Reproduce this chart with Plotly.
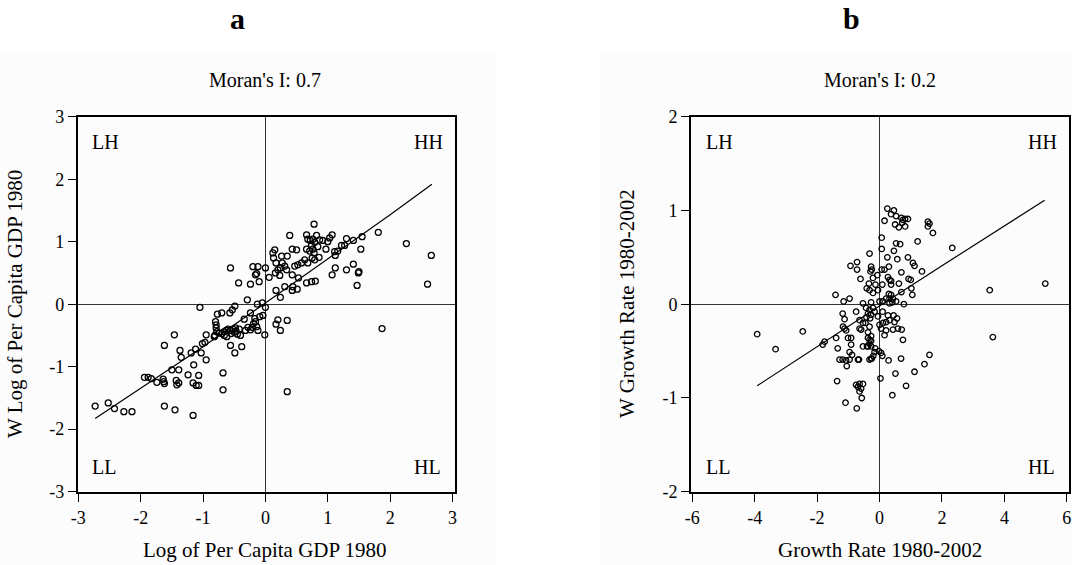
import plotly.graph_objects as go

# ---------------- data: panel a ----------------
gdp_pts = [
    (-2.73,-1.63),(-2.52,-1.58),(-2.42,-1.67),(-2.27,-1.72),(-2.14,-1.72),
    (-1.94,-1.17),(-1.88,-1.17),(-1.83,-1.19),(-1.74,-1.25),(-1.64,-1.20),
    (-1.63,-1.24),(-1.62,-1.27),(-1.62,-0.66),(-1.62,-1.63),(-1.46,-0.49),
    (-1.45,-1.69),(-1.50,-1.05),(-1.39,-1.05),(-1.43,-1.22),(-1.42,-1.29),
    (-1.39,-1.26),(-1.37,-0.74),(-1.35,-0.85),(-1.24,-1.13),(-1.16,-1.78),
    (-1.19,-0.78),(-1.12,-0.72),(-1.15,-0.97),(-1.16,-1.26),(-1.11,-1.30),
    (-1.07,-1.30),(-1.07,-1.14),(-1.05,-0.05),(-0.95,-0.49),(-0.97,-0.61),
    (-1.01,-0.63),(-1.03,-0.78),(-0.95,-0.89),(-0.82,-0.52),(-0.80,-0.28),
    (-0.79,-0.33),(-0.79,-0.38),(-0.78,-0.44),(-0.74,-0.46),(-0.81,-0.50),
    (-0.77,-0.16),(-0.70,-0.14),(-0.68,-1.10),(-0.68,-1.37),(-0.57,-0.14),
    (-0.53,-0.09),(-0.49,-0.03),(-0.70,-0.47),(-0.66,-0.44),(-0.63,-0.42),
    (-0.60,-0.40),(-0.56,-0.42),(-0.52,-0.40),(-0.50,-0.45),(-0.47,-0.43),
    (-0.45,-0.48),(-0.42,-0.40),(-0.40,-0.50),(-0.66,-0.50),(-0.62,-0.52),
    (-0.55,-0.47),(-0.48,-0.38),(-0.56,-0.66),(-0.38,-0.68),(-0.49,-0.78),
    (-0.34,-0.24),(-0.32,-0.42),(-0.29,0.07),(-0.17,-0.23),(-0.16,-0.28),
    (-0.19,-0.31),(-0.14,-0.36),(-0.12,-0.42),(-0.09,-0.20),(-0.04,-0.18),
    (-0.28,-0.37),(-0.24,-0.41),(-0.21,-0.37),(-0.24,-0.14),(-0.13,0.00),
    (-0.05,0.02),(0.00,-0.05),(-0.01,-0.49),(0.20,-0.25),(0.17,-0.32),
    (0.24,-0.42),(0.35,-0.26),(0.35,-1.40),(1.87,-0.39),(0.17,0.22),
    (0.24,0.11),(-0.56,0.58),(-0.43,0.34),(-0.24,0.32),(-0.20,0.60),
    (-0.12,0.60),(-0.16,0.47),(-0.14,0.49),(-0.10,0.36),(0.00,0.58),
    (0.06,0.43),(0.16,0.50),(0.12,0.82),(0.15,0.87),(0.13,0.74),
    (0.17,0.66),(0.24,0.58),(0.26,0.77),(0.27,0.66),(0.31,0.61),
    (0.34,0.55),(0.35,0.77),(0.20,0.55),(0.23,0.46),(0.39,1.10),
    (0.43,0.88),(0.50,0.87),(0.43,0.47),(0.47,0.61),(0.52,0.63),
    (0.58,0.66),(0.63,0.71),(0.53,0.42),(0.66,1.11),(0.68,1.04),
    (0.66,0.88),(0.72,1.02),(0.76,1.04),(0.79,0.99),(0.74,0.94),
    (0.76,0.88),(0.71,0.85),(0.78,0.82),(0.75,0.74),(0.79,0.71),
    (0.86,0.75),(0.68,0.66),(0.78,1.28),(0.82,1.10),(0.87,1.03),
    (0.84,0.92),(0.92,1.02),(0.97,0.88),(1.00,1.00),(1.03,1.06),
    (1.07,1.11),(1.11,0.84),(1.16,0.85),(1.12,0.78),(1.22,0.94),
    (1.27,0.94),(1.30,1.05),(1.41,1.02),(1.55,1.08),(1.53,0.88),
    (1.81,1.15),(2.26,0.97),(2.66,0.78),(2.60,0.32),(1.41,0.64),
    (1.30,0.55),(1.12,0.58),(1.07,0.47),(1.50,0.52),(1.49,0.50),
    (1.47,0.30),(0.66,0.34),(0.74,0.36),(0.80,0.37),(0.43,0.22),
    (0.51,0.24),(0.44,0.28),(0.31,0.28),
]
gdp_x = [p[0] for p in gdp_pts]
gdp_wy = [p[1] for p in gdp_pts]
gdp_fit_x = [-2.73, -2.0, -1.0, 0.0, 1.0, 2.0, 2.67]
gdp_fit_y = [-1.83, -1.35, -0.68, 0.02, 0.72, 1.43, 1.92]

# ---------------- data: panel b ----------------
gr_pts = [
    (0.25,1.02),(0.46,1.00),(0.37,0.96),(0.53,0.94),(0.16,0.89),(0.50,0.85),
    (0.62,0.82),(0.82,0.83),(0.70,0.92),(0.75,0.90),(0.82,0.91),(0.91,0.91),
    (0.73,0.87),(1.55,0.88),(1.60,0.86),(1.55,0.83),(1.71,0.76),(2.33,0.60),
    (1.22,0.67),(0.07,0.71),(0.53,0.65),(0.66,0.64),(0.07,0.59),(0.46,0.57),
    (-0.32,0.54),(0.25,0.50),(0.91,0.50),(0.57,0.48),(1.07,0.44),(1.12,0.41),
    (-0.72,0.45),(-0.93,0.41),(-0.72,0.37),(-0.27,0.40),(-0.25,0.37),(-0.29,0.35),
    (0.30,0.40),(0.07,0.37),(0.16,0.37),(1.36,0.35),(0.70,0.34),(-0.61,0.27),
    (-0.21,0.28),(-0.07,0.31),(0.27,0.29),(0.32,0.26),(0.37,0.25),(0.93,0.27),
    (1.00,0.26),(-0.34,0.22),(-0.13,0.21),(0.09,0.21),(0.37,0.21),(0.62,0.22),
    (-0.41,0.17),(-0.32,0.15),(-0.21,0.12),(-0.05,0.15),(1.02,0.17),(0.70,0.13),
    (1.05,0.10),(-1.41,0.10),(-0.96,0.06),(3.53,0.15),(5.31,0.22),(0.30,0.11),
    (0.37,0.10),(0.32,0.06),
    (-1.15,0.03),(-0.53,0.01),(-0.27,0.02),(-0.43,-0.04),(-0.32,-0.06),(-0.21,-0.04),
    (-0.37,-0.10),(-0.27,-0.11),(-0.16,-0.08),(0.00,0.03),(0.11,0.03),(0.21,0.06),
    (0.43,0.06),(0.32,0.01),(0.53,0.03),(0.78,0.00),(0.41,0.02),
    (-3.92,-0.32),(-3.33,-0.48),(-2.46,-0.29),(-1.76,-0.40),(-1.82,-0.43),(3.63,-0.35),
    (-1.18,-0.10),(-0.75,-0.08),(-1.12,-0.16),(-0.64,-0.17),(-0.53,-0.20),(-1.17,-0.24),
    (-1.12,-0.26),(-1.07,-0.28),(-0.64,-0.26),(-0.59,-0.27),
    (-0.32,-0.24),(-0.37,-0.30),(-0.27,-0.34),(-0.37,-0.36),(-0.32,-0.38),(-0.27,-0.39),
    (-0.32,-0.42),(-0.40,-0.45),(-0.27,-0.45),(-0.45,-0.20),(-0.42,-0.14),(-0.30,-0.15),
    (0.00,-0.22),(0.11,-0.20),(0.21,-0.19),(0.32,-0.17),(0.48,-0.19),(0.56,-0.15),
    (0.59,-0.26),(0.21,-0.28),(0.43,-0.27),(0.16,-0.33),(0.71,-0.27),(0.75,-0.38),
    (0.10,-0.08),(0.27,-0.12),(0.45,-0.12),(-0.05,-0.13),(0.05,-0.26),
    (1.60,-0.54),(1.44,-0.64),(1.12,-0.72),(0.51,-0.74),(0.29,-0.60),(0.69,-0.58),
    (0.03,-0.79),(0.85,-0.87),(0.41,-0.97),
    (-0.02,-0.50),(0.05,-0.52),(0.09,-0.55),(-0.16,-0.51),(-0.20,-0.55),(-0.25,-0.58),
    (-0.14,-0.47),(-0.37,-0.45),(-0.53,-0.45),(-0.91,-0.43),(-1.01,-0.36),(-0.91,-0.36),
    (-1.34,-0.47),(-1.39,-0.36),(-0.96,-0.51),(-0.88,-0.54),
    (-1.28,-0.59),(-1.18,-0.59),(-1.07,-0.60),(-0.96,-0.59),(-0.69,-0.59),(-0.66,-0.59),
    (-1.05,-0.66),(-0.32,-0.59),(-0.27,-0.58),
    (-1.36,-0.82),(-0.75,-0.86),(-0.69,-0.88),(-0.64,-0.85),(-0.59,-0.90),(-0.53,-0.85),
    (-0.64,-0.93),(-0.57,-1.00),(-1.09,-1.05),(-0.73,-1.11),
]
gr_x = [p[0] for p in gr_pts]
gr_wy = [p[1] for p in gr_pts]
gr_fit_x = [-3.92, -2.0, 0.0, 2.0, 3.5, 5.29]
gr_fit_y = [-0.87, -0.45, -0.02, 0.41, 0.73, 1.11]

a_ticks = [-3, -2, -1, 0, 1, 2, 3]
a_ticklabels = ["-3", "-2", "-1", "0", "1", "2", "3"]
b_xticks = [-6, -4, -2, 0, 2, 4, 6]
b_xticklabels = ["-6", "-4", "-2", "0", "2", "4", "6"]
b_yticks = [-2, -1, 0, 1, 2]
b_yticklabels = ["-2", "-1", "0", "1", "2"]

panel_letters = ["a", "b"]
moran_titles = ["Moran's I: 0.7", "Moran's I: 0.2"]
x_titles = ["Log of Per Capita GDP 1980", "Growth Rate 1980-2002"]
y_titles = ["W Log of Per Capita GDP 1980", "W Growth Rate 1980-2002"]
quadrants = ["LH", "HH", "LL", "HL"]

# ---------------- figure ----------------
W, H = 1072, 565
FONT = "Liberation Serif, Times New Roman, serif"

def px(x):
    return x / W

def py(y):
    return 1 - y / H

fig = go.Figure()
fig.add_trace(go.Scatter(x=gdp_x, y=gdp_wy, mode="markers", xaxis="x", yaxis="y",
                         marker=dict(symbol="circle-open", size=6, color="black",
                                     line=dict(width=1.3, color="black")),
                         showlegend=False, hoverinfo="skip"))
fig.add_trace(go.Scatter(x=gdp_fit_x, y=gdp_fit_y, mode="lines", xaxis="x", yaxis="y",
                         line=dict(color="black", width=1.2), showlegend=False))
fig.add_trace(go.Scatter(x=gr_x, y=gr_wy, mode="markers", xaxis="x2", yaxis="y2",
                         marker=dict(symbol="circle-open", size=5.5, color="black",
                                     line=dict(width=1.3, color="black")),
                         showlegend=False, hoverinfo="skip"))
fig.add_trace(go.Scatter(x=gr_fit_x, y=gr_fit_y, mode="lines", xaxis="x2", yaxis="y2",
                         line=dict(color="black", width=1.2), showlegend=False))

ax_common = dict(showgrid=False, showline=True, mirror=True, linecolor="black",
                 linewidth=1.8, ticks="outside", ticklen=8, tickwidth=1,
                 tickcolor="black", zeroline=True, zerolinecolor="#333333",
                 zerolinewidth=1, tickfont=dict(family=FONT, size=18, color="black"),
                 tickmode="array", fixedrange=True, automargin=False)

dom_a = [px(77.7), px(455)]
dom_b = [px(691), px(1069)]
dom_y = [py(492.3), py(116.7)]

fig.update_layout(
    width=W, height=H, margin=dict(l=0, r=0, t=0, b=0, pad=0), autosize=False,
    paper_bgcolor="white", plot_bgcolor="white",
    xaxis=dict(domain=dom_a, range=[-3.01, 3.04], tickvals=a_ticks,
               ticktext=a_ticklabels, anchor="y", **ax_common),
    yaxis=dict(domain=dom_y, range=[-3.01, 3.0], tickvals=a_ticks,
               ticktext=a_ticklabels, anchor="x", **ax_common),
    xaxis2=dict(domain=dom_b, range=[-6.04, 6.07], tickvals=b_xticks,
                ticktext=b_xticklabels, anchor="y2", **ax_common),
    yaxis2=dict(domain=dom_y, range=[-2.006, 2.0], tickvals=b_yticks,
                ticktext=b_yticklabels, anchor="x2", **ax_common),
)

# faint background panels
shapes = [
    dict(type="rect", xref="paper", yref="paper", x0=0, x1=px(495), y0=0, y1=py(50),
         fillcolor="#fcfcfc", line=dict(width=0), layer="below"),
    dict(type="rect", xref="paper", yref="paper", x0=px(600), x1=1, y0=0, y1=py(50),
         fillcolor="#fcfcfc", line=dict(width=0), layer="below"),
]
fig.update_layout(shapes=shapes)

ann = []
def text(x, y, s, size=20, xanchor="center", yanchor="middle", bold=False, angle=0):
    ann.append(dict(x=px(x), y=py(y), xref="paper", yref="paper", text=("<b>%s</b>" % s) if bold else s,
                    showarrow=False, xanchor=xanchor, yanchor=yanchor, textangle=angle,
                    font=dict(family=FONT, size=size, color="black")))

# panel letters
text(237, 18, panel_letters[0], size=30, bold=True)
text(851, 18, panel_letters[1], size=30, bold=True)
# Moran titles
text(265, 80, moran_titles[0], size=20)
text(880, 80, moran_titles[1], size=20)
# axis titles
text(265, 550, x_titles[0], size=21)
text(880, 550, x_titles[1], size=21)
text(15, 304, y_titles[0], size=21, angle=-90)
text(627, 304, y_titles[1], size=21, angle=-90)
# quadrant labels
for left, right in [(90, 445), (704, 1059)]:
    text(left, 142, quadrants[0], xanchor="left")
    text(right, 142, quadrants[1], xanchor="right")
    text(left, 467, quadrants[2], xanchor="left")
    text(right - 2, 467, quadrants[3], xanchor="right")

fig.update_layout(annotations=ann)

fig.write_html("out.html", config={"responsive": False, "displayModeBar": False},
               post_script="document.body.style.margin='0';document.body.style.overflow='hidden';")
